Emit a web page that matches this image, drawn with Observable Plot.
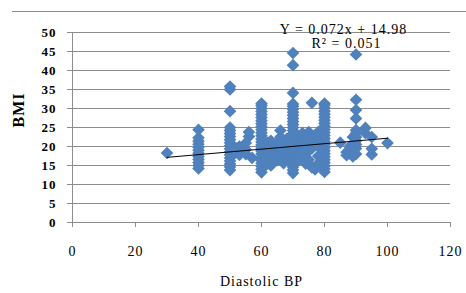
<!DOCTYPE html>
<html>
<head>
<meta charset="utf-8">
<script src="https://cdn.jsdelivr.net/npm/d3@7"></script>
<script src="https://cdn.jsdelivr.net/npm/@observablehq/plot@0.6"></script>
<style>
  html, body { margin: 0; padding: 0; background: #fff; }
  #wrap { position: relative; width: 466px; height: 293px; overflow: hidden; }
  #topline { position: absolute; top: 11px; left: 12px; right: 0; height: 0; border-top: 1px solid #8c8c8c; }
  svg text { letter-spacing: 1px; }
</style>
</head>
<body>
<div id="wrap"><div id="topline"></div></div>
<script>
// Diastolic BP levels and the BMI values observed at each level
const bpLevels = [30, 40, 50, 52, 53, 55, 56, 57, 60, 62, 63, 64, 65, 66, 67, 68, 69, 70,
  72, 73, 74, 75, 76, 77, 78, 80, 85, 87, 88, 89, 90, 93, 95, 100];
const bmiByLevel = [
  [18.3],
  [14.2, 15.0, 15.8, 16.6, 17.4, 18.2, 19.0, 19.8, 20.6, 21.4, 22.3, 24.4],
  [13.8, 14.6, 15.4, 16.2, 17.0, 17.8, 18.6, 19.4, 20.2, 21.0, 21.8, 22.6, 23.4, 24.2, 25.0, 29.3, 35.0, 35.8],
  [18.5, 19.5],
  [17.8, 20.0],
  [18.0, 19.2, 20.9],
  [22.6, 23.8],
  [17.0],
  [13.2, 14.0, 14.8, 15.6, 16.4, 17.2, 18.0, 18.8, 19.6, 20.4, 21.2, 22.0, 22.8, 23.6, 24.4, 25.2, 26.0, 26.8, 27.6, 28.4, 29.2, 30.0, 30.8, 31.3],
  [15.5, 17.0, 19.0, 21.0],
  [15.0, 20.5, 21.5],
  [18.0, 20.0],
  [16.4, 19.0, 21.0],
  [17.5, 20.0, 22.5, 24.2],
  [15.6, 18.0, 20.5],
  [17.0, 19.0, 22.0],
  [16.0, 18.5],
  [13.0, 13.8, 14.6, 15.4, 16.2, 17.0, 17.8, 18.6, 19.4, 20.2, 21.0, 21.8, 22.6, 23.4, 24.2, 25.0, 25.8, 26.6, 27.4, 28.2, 29.0, 29.8, 30.6, 31.2, 34.1, 41.4, 44.6],
  [16.5, 18.5, 20.5, 22.5],
  [17.0, 19.0, 21.5, 23.5],
  [15.5, 18.0, 20.0, 22.0],
  [16.5, 19.0, 21.0, 23.8],
  [14.5, 19.5, 22.0, 31.5],
  [14.0, 20.5, 23.0],
  [15.5, 17.5, 20.0, 22.0, 23.8],
  [13.3, 14.1, 14.9, 15.7, 16.5, 17.3, 18.1, 18.9, 19.7, 20.5, 21.3, 22.1, 22.9, 23.7, 24.5, 25.3, 26.1, 26.9, 27.7, 28.5, 29.3, 30.1, 30.9, 31.3],
  [21.0],
  [17.7, 18.5],
  [18.2, 20.0],
  [17.4, 19.5, 22.5],
  [18.0, 19.5, 20.5, 21.5, 22.5, 23.5, 24.3, 27.4, 29.6, 32.3, 44.2],
  [23.5, 24.9],
  [17.9, 19.4, 22.5],
  [20.9]
];
const xTicks = [0, 20, 40, 60, 80, 100, 120];
const yTicks = [0, 5, 10, 15, 20, 25, 30, 35, 40, 45, 50];
const trendSlope = 0.072;
const trendIntercept = 14.98;
const trendRange = [30, 100];
const eqText = "Y = 0.072x + 14.98";
const r2Text = "R\u00B2 = 0.051";
const xTitle = "Diastolic BP";
const yTitle = "BMI";

const points = bpLevels.flatMap((bp, i) => bmiByLevel[i].map(b => ({bp, bmi: b})));
const trend = trendRange.map(x => ({x, y: trendSlope * x + trendIntercept}));

const grid = "#8c8c8c";
const chart = Plot.plot({
  width: 466,
  height: 293,
  marginLeft: 72,
  marginRight: 16,
  marginTop: 32,
  marginBottom: 71,
  x: {domain: [0, 120]},
  y: {domain: [0, 50]},
  style: {fontFamily: "'Liberation Serif', 'Times New Roman', serif", background: "transparent", overflow: "visible"},
  marks: [
    Plot.gridY(yTicks, {stroke: grid, strokeOpacity: 1}),
    Plot.ruleX([0], {stroke: grid}),
    Plot.axisY(yTicks, {tickSize: 5, tickPadding: 11, stroke: grid, fill: "black", fontWeight: "bold", fontSize: 13, label: null}),
    Plot.axisX(xTicks, {tickSize: 5, tickPadding: 19, stroke: grid, fill: "black", fontSize: 14, label: null}),
    Plot.dot(points, {x: "bp", y: "bmi", symbol: "diamond2", r: 5.7, fill: "#4F81BD", stroke: "none"}),
    Plot.line(trend, {x: "x", y: "y", stroke: "black", strokeWidth: 1}),
    Plot.text([yTitle], {frameAnchor: "left", dx: -54, rotate: -90, fontWeight: "bold", fontSize: 16, fill: "black"}),
    Plot.text([xTitle], {frameAnchor: "bottom", dy: 63, fontSize: 14, fill: "black"}),
    Plot.text([eqText], {frameAnchor: "top", dx: 82, dy: -8, fontSize: 14, fill: "black"}),
    Plot.text([r2Text], {frameAnchor: "top", dx: 85, dy: 6, fontSize: 14, fill: "black"})
  ]
});
chart.style.position = "absolute";
chart.style.left = "0";
chart.style.top = "0";
document.getElementById("wrap").appendChild(chart);
</script>
</body>
</html>
